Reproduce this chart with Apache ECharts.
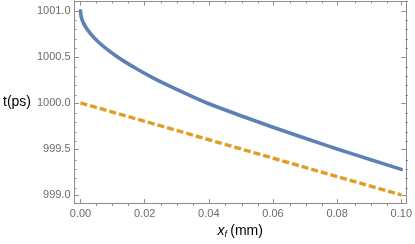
<!DOCTYPE html>
<html><head><meta charset="utf-8">
<script src="https://cdn.jsdelivr.net/npm/echarts@6/dist/echarts.min.js"></script>
<style>html,body{margin:0;padding:0;background:#fff}#c{width:415px;height:244px}</style>
</head><body><div id="c"></div>
<script>
// Data
const xBlue = [0, 0.0002, 0.0007, 0.0015, 0.0025, 0.004, 0.006, 0.008, 0.011, 0.014, 0.018, 0.022, 0.027, 0.033, 0.04, 0.05, 0.06, 0.07, 0.08, 0.09, 0.1];
const tBlue = [1001.00, 1000.939, 1000.885, 1000.830, 1000.779, 1000.716, 1000.648, 1000.589, 1000.512, 1000.443, 1000.360, 1000.283, 1000.195, 1000.098, 999.991, 999.861, 999.736, 999.616, 999.500, 999.388, 999.278];
const xOrange = [0, 0.1];
const tOrange = [1000.0, 999.0];
const xMajor = [0, 0.02, 0.04, 0.06, 0.08, 0.1];
const xMinor = [0.005, 0.01, 0.015, 0.025, 0.03, 0.035, 0.045, 0.05, 0.055, 0.065, 0.07, 0.075, 0.085, 0.09, 0.095];
const yMajor = [999.0, 999.5, 1000.0, 1000.5, 1001.0];
const yMinor = [999.1, 999.2, 999.3, 999.4, 999.6, 999.7, 999.8, 999.9, 1000.1, 1000.2, 1000.3, 1000.4, 1000.6, 1000.7, 1000.8, 1000.9, 1001.1];

const X_MIN = -0.00186, X_MAX = 0.10139, Y_MIN = 998.906, Y_MAX = 1001.107;
const AX = '#8c8c8c', LBL = '#6b6b6b';
const FONT = 'Liberation Sans';
const G = { left: 74, right: 7, top: 1, bottom: 38 };

function ax(dim, grid, pos, ticks, len, line, opts) {
  return Object.assign({
    type: 'value', position: pos, gridIndex: grid,
    min: dim === 'x' ? X_MIN : Y_MIN, max: dim === 'x' ? X_MAX : Y_MAX,
    splitLine: { show: false },
    axisLine: { show: line, onZero: false, lineStyle: { color: AX, width: 1 } },
    axisTick: { show: true, inside: true, length: len, customValues: ticks, lineStyle: { color: AX, width: 1 } },
    axisLabel: { show: false }
  }, opts || {});
}

const chart = echarts.init(document.getElementById('c'), null, { renderer: 'canvas' });
chart.setOption({
  animation: false,
  backgroundColor: '#ffffff',
  grid: [Object.assign({}, G), Object.assign({}, G)],
  xAxis: [
    ax('x', 0, 'bottom', xMajor, 4.5, true, {
      axisLabel: { show: true, customValues: xMajor, color: LBL, fontFamily: FONT, fontSize: 11, margin: 5,
        formatter: v => v.toFixed(2) },
      name: '{i|x}{s|f} {n|(mm)}', nameLocation: 'middle', nameGap: 17,
      nameTextStyle: { rich: {
        i: { fontFamily: FONT, fontStyle: 'italic', fontSize: 14, color: '#000' },
        s: { fontFamily: FONT, fontStyle: 'italic', fontSize: 9, color: '#000', verticalAlign: 'bottom', padding: [6, 0, 0, 0] },
        n: { fontFamily: FONT, fontSize: 14, color: '#000' } } }
    }),
    ax('x', 0, 'top', xMajor, 4.5, true),
    ax('x', 1, 'bottom', xMinor, 2.5, false),
    ax('x', 1, 'top', xMinor, 2.5, false)
  ],
  yAxis: [
    ax('y', 0, 'left', yMajor, 4.5, true, {
      axisLabel: { show: true, customValues: yMajor, color: LBL, fontFamily: FONT, fontSize: 11, margin: 4,
        formatter: v => v.toFixed(1) },
      name: 't(ps)', nameLocation: 'middle', nameGap: 37, nameRotate: 0,
      nameTextStyle: { fontFamily: FONT, fontSize: 14, color: '#000', align: 'right', verticalAlign: 'middle' }
    }),
    ax('y', 0, 'right', yMajor, 4.5, true),
    ax('y', 1, 'left', yMinor, 2.5, false),
    ax('y', 1, 'right', yMinor, 2.5, false)
  ],
  series: [
    { type: 'line', xAxisIndex: 0, yAxisIndex: 0, data: xBlue.map((x, i) => [x, tBlue[i]]),
      showSymbol: false, smooth: 0.3, lineStyle: { color: '#5E81B5', width: 3.6, cap: 'round', join: 'round' }, z: 3 },
    { type: 'line', xAxisIndex: 0, yAxisIndex: 0, data: xOrange.map((x, i) => [x, tOrange[i]]),
      showSymbol: false, lineStyle: { color: '#E19C24', width: 3.4, type: [7, 3] }, z: 2 }
  ]
});
</script>
</body></html>
